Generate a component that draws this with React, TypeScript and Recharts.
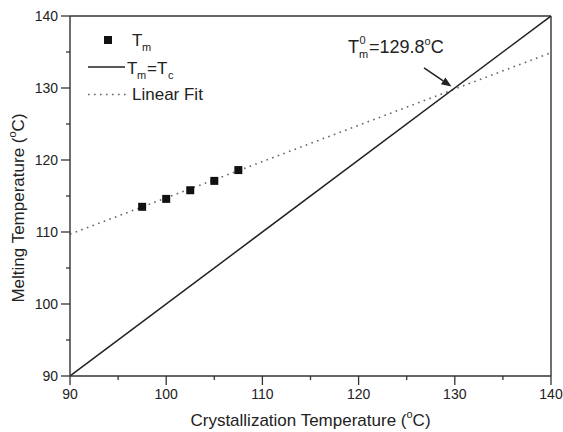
import {
  ComposedChart,
  Legend,
  Line,
  ReferenceLine,
  Scatter,
  XAxis,
  YAxis,
  Label,
} from 'recharts'

const crystT = [97.5, 100, 102.5, 105, 107.5]
const meltT = [113.5, 114.6, 115.8, 117.1, 118.6]

const eqX = [90, 140]
const eqY = [90, 140]

const fitX = [90, 140]
const fitY = [109.7, 134.9]

const xTicks = [90, 95, 100, 105, 110, 115, 120, 125, 130, 135, 140]
const yTicks = [90, 95, 100, 105, 110, 115, 120, 125, 130, 135, 140]

// arrow to the intersection, in data units
const arrowFrom = { x: 126.8, y: 132.8 }
const arrowTo = { x: 129.65, y: 130.2 }

const points = crystT.map((x, i) => ({ x, y: meltT[i] }))
const eqData = eqX.map((x, i) => ({ x, y: eqY[i] }))
const fitData = fitX.map((x, i) => ({ x, y: fitY[i] }))

const INK = '#222'
const AXIS = '#333'
const FONT = '"Liberation Sans", Arial, sans-serif'

function XTick(props: any) {
  const { x, y, payload } = props
  const major = payload.value % 10 === 0
  return (
    <g>
      <line x1={x} y1={y} x2={x} y2={y + (major ? 9 : 4)} stroke={AXIS} strokeWidth={1.3} />
      {major && (
        <text x={x} y={y + 23} textAnchor="middle" fontSize={14} fill={INK} fontFamily={FONT}>
          {payload.value}
        </text>
      )}
    </g>
  )
}

function YTick(props: any) {
  const { x, y, payload } = props
  const major = payload.value % 10 === 0
  return (
    <g>
      <line x1={x} y1={y} x2={x - (major ? 9 : 4)} y2={y} stroke={AXIS} strokeWidth={1.3} />
      {major && (
        <text x={x - 12} y={y + 5} textAnchor="end" fontSize={14} fill={INK} fontFamily={FONT}>
          {payload.value}
        </text>
      )}
    </g>
  )
}

function Arrow(props: any) {
  const { x1, y1, x2, y2 } = props
  const a = Math.atan2(y2 - y1, x2 - x1)
  const len = 10
  const w = 4
  const bx = x2 - len * Math.cos(a)
  const by = y2 - len * Math.sin(a)
  const p1 = `${bx + w * Math.sin(a)},${by - w * Math.cos(a)}`
  const p2 = `${bx - w * Math.sin(a)},${by + w * Math.cos(a)}`
  return (
    <g>
      <line x1={x1} y1={y1} x2={bx} y2={by} stroke={INK} strokeWidth={1.6} />
      <polygon points={`${x2},${y2} ${p1} ${p2}`} fill={INK} />
      <g fontFamily={FONT} fill={INK}>
        <text x={x1 - 76} y={y1 - 15} fontSize={18}>T</text>
        <text x={x1 - 64.5} y={y1 - 24} fontSize={11}>0</text>
        <text x={x1 - 65} y={y1 - 10} fontSize={11}>m</text>
        <text x={x1 - 55} y={y1 - 15} fontSize={18}>
          =129.8
          <tspan fontSize={11} dy={-8}>o</tspan>
          <tspan fontSize={18} dy={8}>C</tspan>
        </text>
      </g>
    </g>
  )
}

function LegendBox() {
  return (
    <svg width={200} height={90} style={{ display: 'block' }}>
      <g fontFamily={FONT} fill={INK} fontSize={17}>
        <rect x={24} y={16} width={8} height={8} fill="#111" />
        <text x={52} y={26}>T</text>
        <text x={62} y={31} fontSize={11}>m</text>

        <line x1={8} y1={47} x2={45} y2={47} stroke={INK} strokeWidth={1.5} />
        <text x={47} y={54}>T</text>
        <text x={57} y={59} fontSize={11}>m</text>
        <text x={67} y={54}>=T</text>
        <text x={88} y={59} fontSize={11}>c</text>

        <line x1={8} y1={74.5} x2={47} y2={74.5} stroke="#666" strokeWidth={1.6} strokeDasharray="1.6 4.4" />
        <text x={52} y={80}>Linear Fit</text>
      </g>
    </svg>
  )
}

function XTitle(props: any) {
  const { viewBox } = props
  const cx = viewBox.x + viewBox.width / 2
  return (
    <text x={cx} y={426} textAnchor="middle" fontSize={17} fill={INK} fontFamily={FONT}>
      Crystallization Temperature (
      <tspan fontSize={11} dy={-8}>o</tspan>
      <tspan fontSize={17} dy={8}>C)</tspan>
    </text>
  )
}

function YTitle(props: any) {
  const { viewBox } = props
  const cy = viewBox.y + viewBox.height / 2 + 12
  return (
    <text
      x={0}
      y={0}
      transform={`translate(24, ${cy}) rotate(-90)`}
      textAnchor="middle"
      fontSize={17}
      fill={INK}
      fontFamily={FONT}
    >
      Melting Temperature (
      <tspan fontSize={11} dy={-8}>o</tspan>
      <tspan fontSize={17} dy={8}>C)</tspan>
    </text>
  )
}

function Square(props: any) {
  const { cx, cy } = props
  return <rect x={cx - 4} y={cy - 4} width={8} height={8} fill="#111" />
}

export default function App() {
  return (
    <div style={{ position: 'absolute', left: 0, top: 0, background: '#fff' }}>
      <ComposedChart
        width={563}
        height={432}
        margin={{ top: 16, right: 12, bottom: 0, left: 0 }}
      >
        <XAxis
          type="number"
          dataKey="x"
          domain={[90, 140]}
          ticks={xTicks}
          interval={0}
          tickSize={0}
          tickMargin={0}
          tickLine={false}
          tick={<XTick />}
          axisLine={{ stroke: AXIS, strokeWidth: 1.4 }}
          height={56}
          allowDataOverflow
        >
          <Label content={<XTitle />} />
        </XAxis>
        <YAxis
          type="number"
          dataKey="y"
          domain={[90, 140]}
          ticks={yTicks}
          interval={0}
          tickSize={0}
          tickMargin={0}
          tickLine={false}
          tick={<YTick />}
          axisLine={{ stroke: AXIS, strokeWidth: 1.4 }}
          width={70}
          allowDataOverflow
        >
          <Label content={<YTitle />} />
        </YAxis>
        <ReferenceLine y={140} stroke={AXIS} strokeWidth={1.4} />
        <ReferenceLine x={140} stroke={AXIS} strokeWidth={1.4} />
        <Line
          data={fitData}
          dataKey="y"
          type="linear"
          stroke="#666"
          strokeWidth={1.6}
          strokeDasharray="1.6 4.4"
          dot={false}
          activeDot={false}
          isAnimationActive={false}
          legendType="none"
        />
        <Line
          data={eqData}
          dataKey="y"
          type="linear"
          stroke={INK}
          strokeWidth={1.5}
          dot={false}
          activeDot={false}
          isAnimationActive={false}
          legendType="none"
        />
        <Scatter data={points} dataKey="y" shape={<Square />} isAnimationActive={false} legendType="none" />
        <ReferenceLine
          segment={[arrowFrom, arrowTo]}
          ifOverflow="visible"
          shape={<Arrow />}
        />
        <Legend
          layout="vertical"
          align="center"
          verticalAlign="middle"
          content={<LegendBox />}
          wrapperStyle={{ left: 80, top: 20, width: 200, height: 90 }}
        />
      </ComposedChart>
    </div>
  )
}
